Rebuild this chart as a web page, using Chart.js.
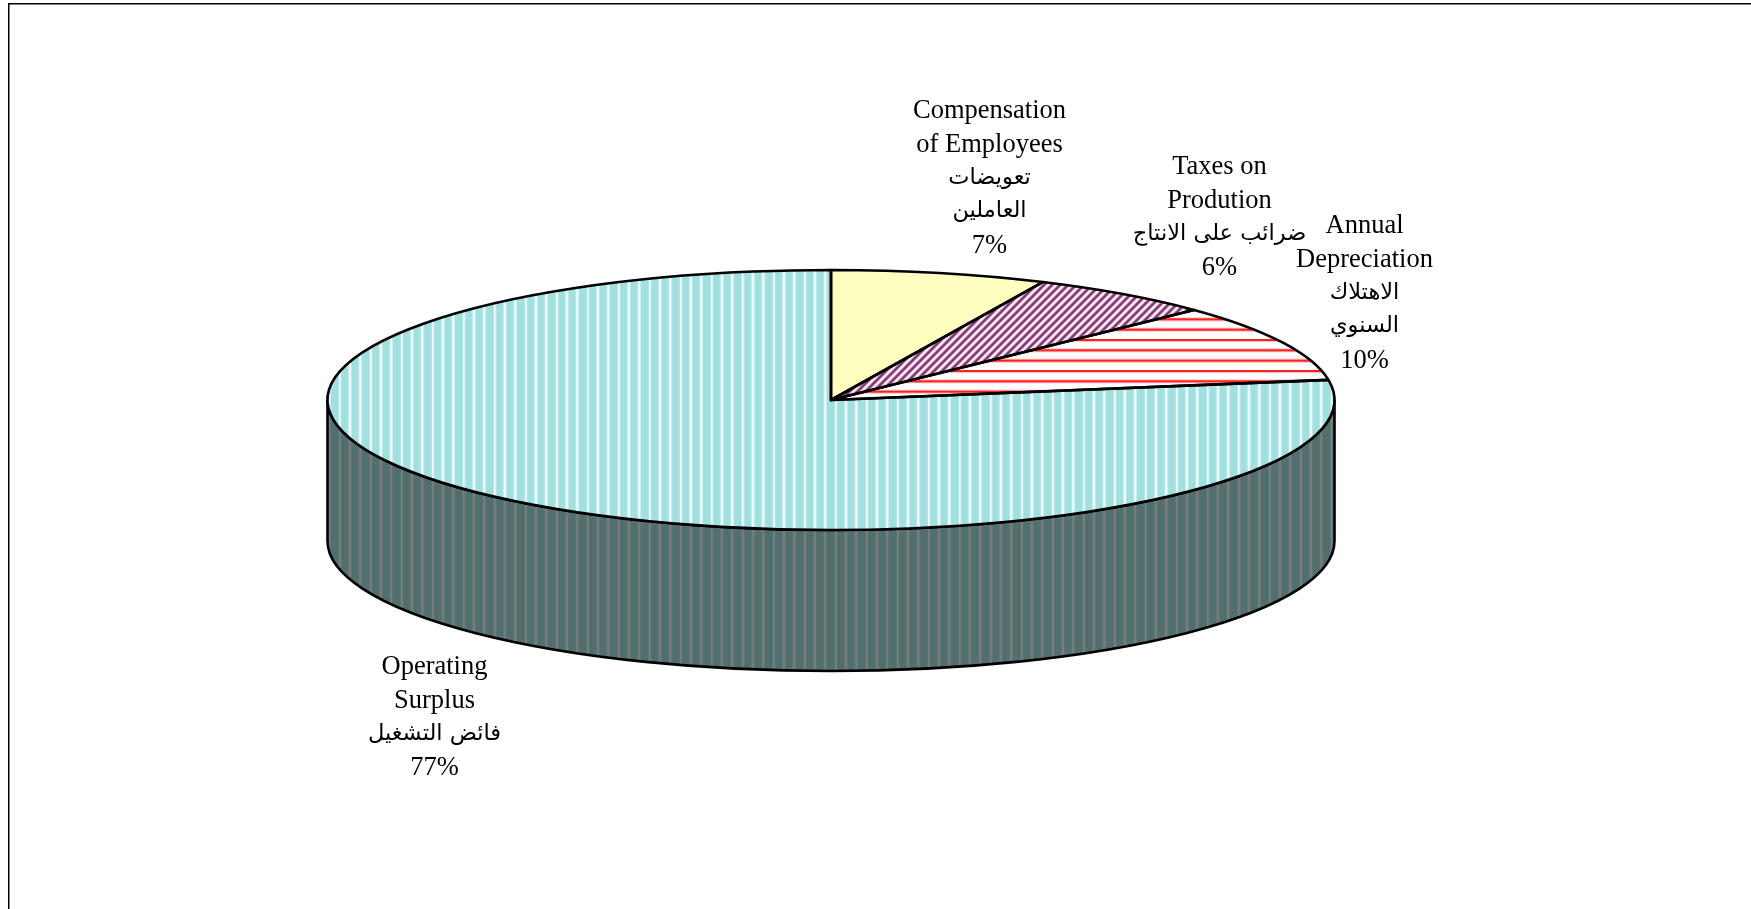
<!DOCTYPE html>
<html>
<head>
<meta charset="utf-8">
<style>
  html, body { margin: 0; padding: 0; background: #fff; overflow: hidden; }
  canvas { display: block; }
</style>
<script src="https://cdn.jsdelivr.net/npm/chart.js@4"></script>
</head>
<body>
<canvas id="myChart" width="1751" height="909"></canvas>
<script>
const categories = ["Compensation of Employees", "Taxes on Prodution", "Annual Depreciation", "Operating Surplus"];
const values = [6.9, 5.9, 9.7, 77.4];
const labelLines = [
  ["Compensation", "of Employees", "تعويضات", "العاملين"],
  ["Taxes on", "Prodution", "ضرائب على الانتاج"],
  ["Annual", "Depreciation", "الاهتلاك", "السنوي"],
  ["Operating", "Surplus", "فائض التشغيل"],
];

// where each label block sits: centre x and first baseline
const labelAnchors = [[989.5, 118], [1219.5, 174], [1364.5, 233], [434.5, 674]];
const labelLeading = 33.8;

// the tilted disc
const disc = { cx: 831, cy: 400, rx: 503.5, ry: 130, depth: 141 };

const canvas = document.getElementById("myChart");
const ctx = canvas.getContext("2d");

const makeTile = (w, h, draw) => {
  const tile = document.createElement("canvas");
  tile.width = w;
  tile.height = h;
  draw(tile.getContext("2d"));
  return ctx.createPattern(tile, "repeat");
};

// period is 31/3 px, so three stripes in a 31 px tile
const vStripes = (bg, line, soft) =>
  makeTile(31, 1, (t) => {
    t.fillStyle = bg;
    t.fillRect(0, 0, 31, 1);
    [0, 31 / 3, 62 / 3].forEach((x) => {
      t.fillStyle = soft;
      t.fillRect(x - 1, 0, 3.5, 1);
      t.fillStyle = line;
      t.fillRect(x, 0, 1.5, 1);
    });
  });

const tealPattern = vStripes("#a0e0e0", "#ffffff", "#c8eeee");
const wallPattern = vStripes("#507070", "#808080", "#687474");

const redPattern = makeTile(1, 31, (t) => {
  t.fillStyle = "#ffffff";
  t.fillRect(0, 0, 1, 31);
  [0, 31 / 3, 62 / 3].forEach((y) => {
    t.fillStyle = "#ffc0c0";
    t.fillRect(0, y - 1, 1, 4);
    t.fillStyle = "#ff2020";
    t.fillRect(0, y, 1, 2);
  });
});

const purplePattern = makeTile(8, 8, (t) => {
  const img = t.createImageData(8, 8);
  for (let y = 0; y < 8; y++) {
    for (let x = 0; x < 8; x++) {
      const k = 0.5 + 0.5 * Math.cos(((x + y) / 8) * 2 * Math.PI);
      const i = (y * 8 + x) * 4;
      img.data[i] = 255 - k * (255 - 130);
      img.data[i + 1] = 255 - k * (255 - 40);
      img.data[i + 2] = 255 - k * (255 - 110);
      img.data[i + 3] = 255;
    }
  }
  t.putImageData(img, 0, 0);
});

const fillColors = ["#ffffc0", purplePattern, redPattern, tealPattern];

const discTransform = (c, arc) => {
  c.translate(disc.cx, disc.cy);
  c.scale(disc.rx / arc.outerRadius, disc.ry / arc.outerRadius);
  c.translate(-arc.x, -arc.y);
};

const drawWall = (c, arcs) => {
  c.lineWidth = 2.6;
  c.strokeStyle = "#000";
  wallPattern.setTransform(new DOMMatrix().translate(-2.2, 0));
  arcs.forEach((arc) => {
    // only the front half of the rim shows
    const from = Math.max(arc.startAngle, 0);
    const to = Math.min(arc.endAngle, Math.PI);
    if (to <= from) return;
    c.beginPath();
    c.ellipse(disc.cx, disc.cy, disc.rx, disc.ry, 0, from, to);
    c.ellipse(disc.cx, disc.cy + disc.depth, disc.rx, disc.ry, 0, to, from, true);
    c.closePath();
    c.fillStyle = wallPattern;
    c.fill();
    c.stroke();
  });
};

const drawOutlines = (c, arcs) => {
  c.lineWidth = 2.6;
  c.lineJoin = "round";
  c.strokeStyle = "#000";
  arcs.forEach((arc) => {
    c.save();
    discTransform(c, arc);
    c.beginPath();
    c.moveTo(arc.x, arc.y);
    c.arc(arc.x, arc.y, arc.outerRadius, arc.startAngle, arc.endAngle);
    c.closePath();
    c.restore();
    c.stroke();
  });
};

const latinFont = '26.5px "Liberation Serif", serif';
const arabicFont = '22.5px "DejaVu Sans", serif';

const drawLabels = (c) => {
  c.fillStyle = "#000";
  c.textAlign = "center";
  c.textBaseline = "alphabetic";
  const total = values.reduce((a, b) => a + b, 0);
  labelLines.forEach((lines, i) => {
    const [x, y] = labelAnchors[i];
    [...lines, `${Math.round((values[i] / total) * 100)}%`].forEach((line, n) => {
      const arabic = /[\u0600-\u06ff]/.test(line);
      c.font = arabic ? arabicFont : latinFont;
      c.fillText(line, x, y + n * labelLeading - (arabic ? 2 : 0));
    });
  });
};

const drawFrame = (c) => {
  c.fillStyle = "#000";
  c.fillRect(8, 3, 1743, 1.5);
  c.fillRect(8, 3, 1.5, 906);
};

const tiltedPie = {
  id: "tiltedPie",
  beforeDatasetsDraw(chart) {
    const c = chart.ctx;
    const arcs = chart.getDatasetMeta(0).data;
    drawFrame(c);
    drawWall(c, arcs);
    c.save();
    discTransform(c, arcs[0]);
    // keep the hatch in page pixels, not squashed with the disc
    const inverse = c.getTransform().inverse();
    tealPattern.setTransform(inverse.translate(-2.2, 0));
    redPattern.setTransform(inverse.translate(0, -2));
    purplePattern.setTransform(inverse);
  },
  afterDatasetsDraw(chart) {
    const c = chart.ctx;
    c.restore();
    const arcs = chart.getDatasetMeta(0).data;
    drawOutlines(c, arcs);
    drawLabels(c);
  },
};

const myChart = new Chart(ctx, {
  type: "pie",
  data: {
    labels: categories,
    datasets: [
      {
        data: values,
        backgroundColor: fillColors,
        borderWidth: 0,
        clip: false,
      },
    ],
  },
  options: {
    responsive: false,
    animation: false,
    events: [],
    plugins: {
      legend: { display: false },
      tooltip: { enabled: false },
    },
  },
  plugins: [tiltedPie],
});
</script>
</body>
</html>
